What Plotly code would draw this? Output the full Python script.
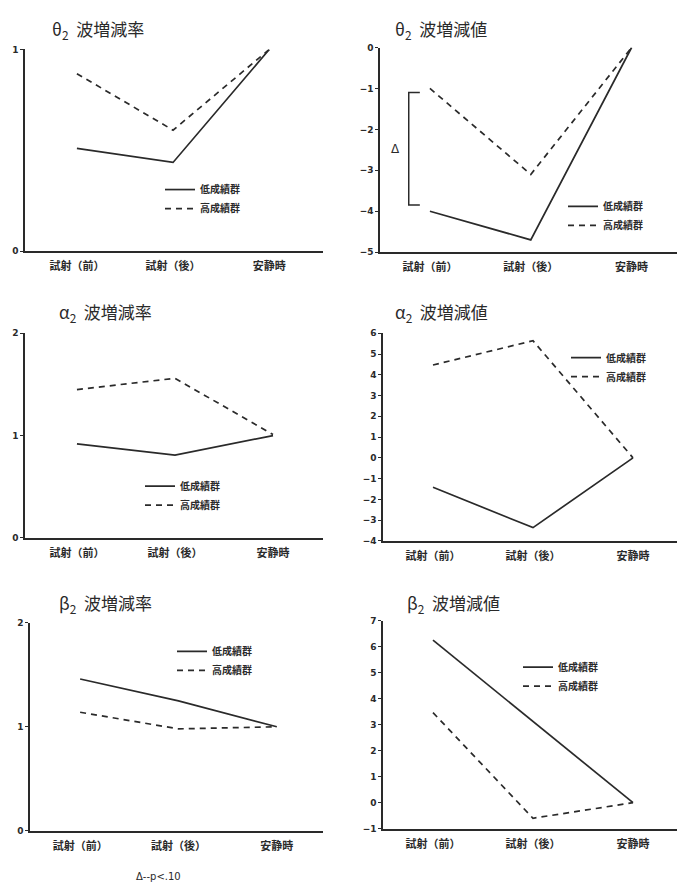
import plotly.graph_objects as go

W, H = 678, 889

categories = ["試射（前）", "試射（後）", "安静時"]
series_names = ["低成績群", "高成績群"]

theta_rate_low = [0.51, 0.44, 1.0]
theta_rate_high = [0.88, 0.60, 1.0]
theta_val_low = [-4.0, -4.7, 0.0]
theta_val_high = [-1.0, -3.1, 0.0]
alpha_rate_low = [0.92, 0.81, 1.0]
alpha_rate_high = [1.45, 1.56, 1.01]
alpha_val_low = [-1.42, -3.36, 0.0]
alpha_val_high = [4.47, 5.64, 0.0]
beta_rate_low = [1.46, 1.25, 1.0]
beta_rate_high = [1.14, 0.98, 1.0]
beta_val_low = [6.26, 3.13, 0.0]
beta_val_high = [3.47, -0.6, 0.0]

titles = ["θ<sub>2</sub>  波増減率", "θ<sub>2</sub>  波増減値",
          "α<sub>2</sub>  波増減率", "α<sub>2</sub>  波増減値",
          "β<sub>2</sub>  波増減率", "β<sub>2</sub>  波増減値"]
footnote = "Δ--p<.10"

panels = [
    dict(low=theta_rate_low, high=theta_rate_high, yr=[0, 1], ticks=[0, 1],
         px=(25, 323), py=(45, 249), xr=[-0.54, 2.56],
         title_xy=(50, 25), leg_xy=(160, 172)),
    dict(low=theta_val_low, high=theta_val_high, yr=[-5, 0], ticks=[-5, -4, -3, -2, -1, 0],
         px=(380, 677), py=(43, 250), xr=[-0.495, 2.45],
         title_xy=(393, 25), leg_xy=(563, 189)),
    dict(low=alpha_rate_low, high=alpha_rate_high, yr=[0, 2], ticks=[0, 1, 2],
         px=(25, 323), py=(332, 539), xr=[-0.53, 2.51],
         title_xy=(57, 311), leg_xy=(140, 472)),
    dict(low=alpha_val_low, high=alpha_val_high, yr=[-4, 6], ticks=list(range(-4, 7)),
         px=(383, 677), py=(332, 542), xr=[-0.5, 2.44],
         title_xy=(393, 311), leg_xy=(566, 342)),
    dict(low=beta_rate_low, high=beta_rate_high, yr=[0, 2], ticks=[0, 1, 2],
         px=(30, 323), py=(625, 835), xr=[-0.51, 2.47],
         title_xy=(57, 605), leg_xy=(172, 639)),
    dict(low=beta_val_low, high=beta_val_high, yr=[-1, 7], ticks=list(range(-1, 8)),
         px=(383, 677), py=(623, 833), xr=[-0.5, 2.44],
         title_xy=(405, 605), leg_xy=(518, 655)),
]

ink = "#2a2a2a"
font_jp = "Noto Sans CJK JP"

fig = go.Figure()
layout = dict(width=W, height=H, margin=dict(l=0, r=0, t=0, b=0),
              paper_bgcolor="white", plot_bgcolor="white",
              font=dict(family=font_jp, color=ink), showlegend=True)
annotations = []
shapes = []

for i, p in enumerate(panels, start=1):
    sx = "" if i == 1 else str(i)
    lg = "legend" if i == 1 else f"legend{i}"
    fig.add_trace(go.Scatter(x=categories, y=p["low"], mode="lines", name=series_names[0],
                             line=dict(color=ink, width=1.7), xaxis="x" + sx, yaxis="y" + sx,
                             legend=lg))
    fig.add_trace(go.Scatter(x=categories, y=p["high"], mode="lines", name=series_names[1],
                             line=dict(color=ink, width=1.7, dash="6px,5px"),
                             xaxis="x" + sx, yaxis="y" + sx, legend=lg))
    x0, x1 = p["px"]
    y0, y1 = p["py"]
    layout["xaxis" + sx] = dict(domain=[x0 / W, x1 / W], range=p["xr"], type="category",
                                anchor="y" + sx, showline=True, linecolor=ink, linewidth=1.5,
                                showgrid=False, zeroline=False, ticks="", ticklabelstandoff=4,
                                tickfont=dict(size=11, family=font_jp, color=ink, weight="bold"))
    layout["yaxis" + sx] = dict(domain=[1 - y1 / H, 1 - y0 / H], range=p["yr"],
                                tickvals=p["ticks"], anchor="x" + sx, showline=True,
                                linecolor=ink, linewidth=1.5, showgrid=False, zeroline=False,
                                ticks="outside", ticklen=3, tickcolor=ink,
                                tickfont=dict(size=9, family="DejaVu Sans", color=ink,
                                              weight="bold"))
    lx, ly = p["leg_xy"]
    layout[lg] = dict(x=lx / W, y=1 - ly / H, xanchor="left", yanchor="top",
                      bgcolor="rgba(0,0,0,0)",
                      font=dict(size=10, family=font_jp, color=ink, weight="bold"),
                      itemwidth=30, tracegroupgap=0)
    tx, ty = p["title_xy"]
    annotations.append(dict(text=titles[i - 1], x=tx / W, y=1 - ty / H, xref="paper", yref="paper",
                            xanchor="left", yanchor="middle", showarrow=False,
                            font=dict(size=17, family=font_jp, color=ink)))

# significance bracket in panel 2 (between the two groups at 試射（前）)
b_top = max(theta_val_high[0], theta_val_low[0]) - 0.1
b_bot = min(theta_val_high[0], theta_val_low[0]) + 0.15
bx, bx2 = -0.21, -0.1
shapes.append(dict(type="path", xref="x2", yref="y2",
                   path=f"M {bx2} {b_top} L {bx} {b_top} L {bx} {b_bot} L {bx2} {b_bot}",
                   line=dict(color=ink, width=1.5)))
annotations.append(dict(text="Δ", x=-0.34, y=(b_top + b_bot) / 2, xref="x2", yref="y2",
                        showarrow=False, font=dict(size=12, family="DejaVu Sans", color=ink)))

annotations.append(dict(text=footnote, x=158 / W, y=0, xref="paper", yref="paper",
                        xanchor="center", yanchor="bottom", yshift=0, showarrow=False,
                        font=dict(size=10, family="DejaVu Sans", color=ink)))

layout["annotations"] = annotations
layout["shapes"] = shapes
fig.update_layout(**layout)
fig.write_html("out.html", config={"displayModeBar": False},
               post_script="document.body.style.margin='0';"
                           "document.documentElement.style.overflow='hidden';")
